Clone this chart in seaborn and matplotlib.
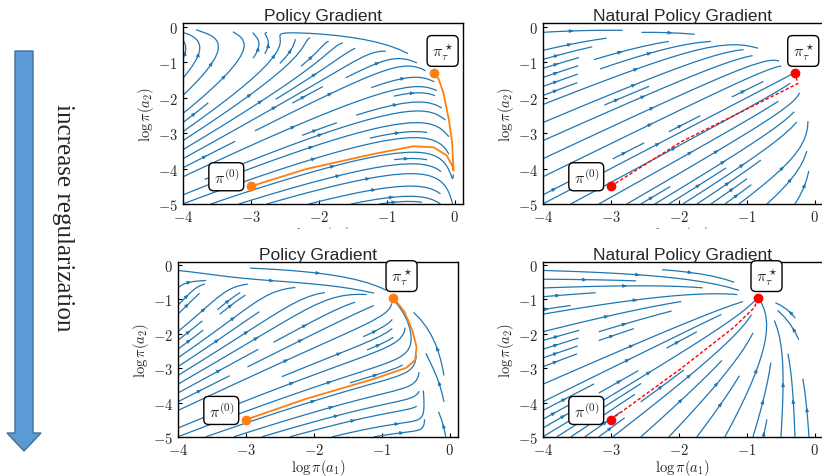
import numpy as np
import seaborn as sns
import matplotlib
matplotlib.use("Agg")
import matplotlib.pyplot as plt
from matplotlib.patches import Rectangle, Polygon

# bandit model behind the flow fields
rewards = [1.0, 0.9, 0.1]
taus = [0.1, 1.0]          # top row: weak regularization, bottom row: strong
start = [-3.0, -4.5]        # log pi^(0)

x_ticks = [-4, -3, -2, -1, 0]
y_ticks = [0, -1, -2, -3, -4, -5]

# trajectories
pg_top_x = [-3.0, -2.18, -1.20, -0.61, -0.31, -0.12, -0.03, -0.02, -0.04, -0.09, -0.17, -0.24, -0.30]
pg_top_y = [-4.5, -4.01, -3.59, -3.37, -3.40, -3.63, -3.95, -4.06, -3.26, -2.60, -1.85, -1.47, -1.31]
npg_top_x = [-3.0, -1.97, -0.99, -0.50, -0.25, -0.29]
npg_top_y = [-4.5, -3.25, -2.31, -1.84, -1.60, -1.31]
pg_bot_x = [-3.0, -2.11, -1.13, -0.64, -0.51, -0.49, -0.55, -0.67, -0.83]
pg_bot_y = [-4.5, -3.89, -3.32, -2.99, -2.76, -2.38, -1.91, -1.35, -0.95]
npg_bot_x = [-3.0, -1.98, -1.19, -0.89, -0.83]
npg_bot_y = [-4.5, -3.03, -1.81, -1.24, -0.95]


def flow(method, tau, X, Y):
    p1, p2 = np.exp(X), np.exp(Y)
    p3 = 1 - p1 - p2
    p3 = np.where(p3 > 1e-9, p3, np.nan)
    P = [p1, p2, p3]
    logp = [X, Y, np.log(p3)]
    c = [r - tau * l for r, l in zip(rewards, logp)]
    cbar = sum(p * ci for p, ci in zip(P, c))
    if method == "pg":
        dth = [p * (ci - cbar) for p, ci in zip(P, c)]
    else:
        dth = c
    m = sum(p * d for p, d in zip(P, dth))
    return np.ma.masked_invalid(dth[0] - m), np.ma.masked_invalid(dth[1] - m)


sns.set_style("ticks")
plt.rcParams["mathtext.fontset"] = "cm"
plt.rcParams["font.family"] = ["Liberation Sans", "DejaVu Sans"]

fig = plt.figure(figsize=(8.22, 4.77), dpi=100)

# left arrow + text
ax0 = fig.add_axes([0, 0, 1, 1], zorder=-1)
ax0.set_xlim(0, 822)
ax0.set_ylim(477, 0)
ax0.axis("off")
ax0.add_patch(Polygon([(15, 52), (33, 52), (33, 434), (41, 434), (24, 452), (7, 434), (15, 434)],
                      closed=True, fc="#5b9bd5", ec="#41719c", lw=1))
ax0.text(63, 218, "increase regularization", rotation=270, ha="center", va="center",
         fontsize=18, family="Liberation Serif")

xs = np.linspace(-4, 0.12, 120)
ys = np.linspace(-5, 0.1, 120)
X, Y = np.meshgrid(xs, ys)

panels = [
    ([0.2223, 0.5702, 0.341, 0.3788], "pg", taus[0], pg_top_x, pg_top_y),
    ([0.6602, 0.5702, 0.341, 0.3788], "npg", taus[0], npg_top_x, npg_top_y),
    ([0.2162, 0.0820, 0.341, 0.3673], "pg", taus[1], pg_bot_x, pg_bot_y),
    ([0.6602, 0.0820, 0.341, 0.3673], "npg", taus[1], npg_bot_x, npg_bot_y),
]

for rect, method, tau, px, py in panels:
    ax = fig.add_axes(rect)
    U, V = flow(method, tau, X, Y)
    ax.streamplot(xs, ys, U, V, color="#1f77b4", linewidth=0.9, arrowsize=0.45, density=0.7)
    if method == "pg":
        ax.plot(px, py, color="#ff7f0e", lw=1.3, zorder=3)
        ax.plot([px[0], px[-1]], [py[0], py[-1]], "o", color="#ff7f0e", ms=6, zorder=4)
        ax.set_title("Policy Gradient", fontsize=12.5, pad=2)
    else:
        ax.plot(px, py, "--", color="red", lw=1.0, dashes=(2.5, 1.5), zorder=3)
        ax.plot([px[0], px[-1]], [py[0], py[-1]], "o", color="red", ms=6, zorder=4)
        ax.set_title("Natural Policy Gradient", fontsize=12.5, pad=2)
    box = dict(boxstyle="round,pad=0.3", fc="white", ec="black", lw=1)
    ax.text(px[0] - 0.36, py[0] + 0.27, r"$\pi^{(0)}$", fontsize=11.5, ha="center", va="center",
            bbox=box, zorder=5)
    ax.text(px[-1] + 0.12, py[-1] + 0.63, r"$\pi^\star_\tau$", fontsize=11.5, ha="center",
            va="center", bbox=box, zorder=5)
    ax.set_xlim(-4, 0.12)
    ax.set_ylim(-5, 0.1)
    ax.set_xticks(x_ticks, labels=[f"${t}$" for t in x_ticks])
    ax.set_yticks(y_ticks, labels=[f"${t}$" for t in y_ticks])
    ax.tick_params(labelsize=10.5, length=3, direction="in", pad=3.5, color="black")
    for s in ax.spines.values():
        s.set_color("black")
        s.set_linewidth(1.0)
    ax.set_xlabel(r"$\log\pi(a_1)$", fontsize=10.5, labelpad=0)
    ax.set_ylabel(r"$\log\pi(a_2)$", fontsize=10.5, labelpad=1)

# the upper row's x labels are cut off in the original layout
fig.add_artist(Rectangle((0.17, 1 - 244 / 477), 0.83, 14.5 / 477, transform=fig.transFigure,
                         fc="white", ec="none", zorder=10))

fig.savefig("out.png", dpi=100)
